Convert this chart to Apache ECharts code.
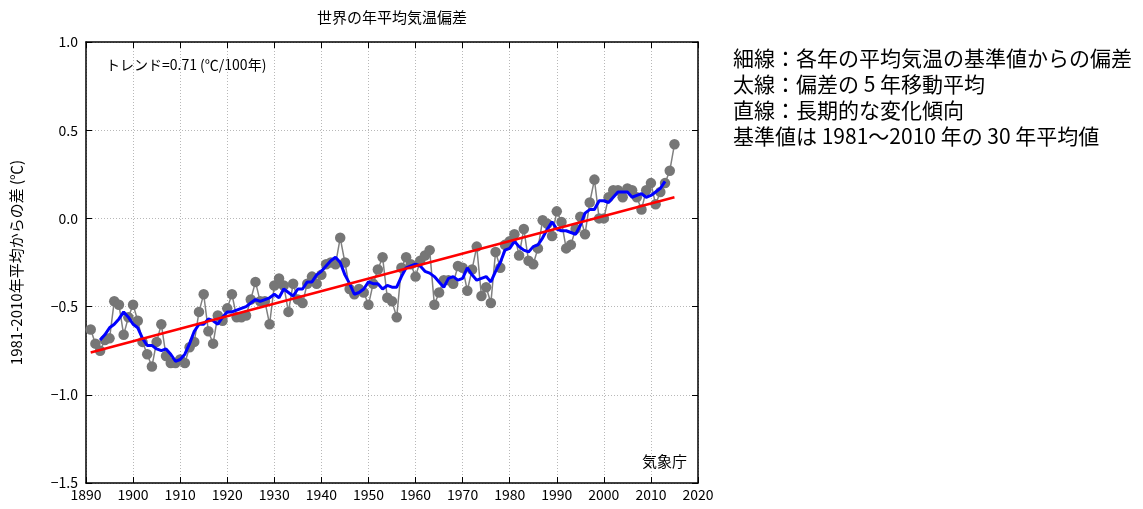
<!DOCTYPE html>
<html>
<head>
<meta charset="utf-8">
<script src="https://cdn.jsdelivr.net/npm/echarts@6/dist/echarts.min.js"></script>
<style>
html,body{margin:0;padding:0;background:#fff;}
#chart{width:1143px;height:509px;}
</style>
</head>
<body>
<div id="chart"></div>
<script>
// ---- data ----
const firstYear = 1891;
const anomaly = [
 -0.63,-0.71,-0.75,-0.69,-0.68,-0.47,-0.49,-0.66,-0.56,-0.49,
 -0.58,-0.70,-0.77,-0.84,-0.70,-0.60,-0.78,-0.82,-0.82,-0.80,
 -0.82,-0.73,-0.70,-0.53,-0.43,-0.64,-0.71,-0.55,-0.58,-0.51,
 -0.43,-0.56,-0.56,-0.55,-0.46,-0.36,-0.47,-0.47,-0.60,-0.38,
 -0.34,-0.38,-0.53,-0.37,-0.46,-0.48,-0.37,-0.33,-0.37,-0.32,
 -0.26,-0.25,-0.26,-0.11,-0.25,-0.40,-0.43,-0.40,-0.42,-0.49,
 -0.37,-0.29,-0.22,-0.45,-0.47,-0.56,-0.28,-0.22,-0.26,-0.33,
 -0.24,-0.21,-0.18,-0.49,-0.42,-0.35,-0.35,-0.37,-0.27,-0.28,
 -0.41,-0.29,-0.16,-0.44,-0.39,-0.48,-0.19,-0.28,-0.15,-0.13,
 -0.09,-0.21,-0.06,-0.24,-0.26,-0.17,-0.01,-0.03,-0.10,0.04,
 -0.02,-0.17,-0.15,-0.06,0.01,-0.09,0.09,0.22,0.00,0.00,
 0.12,0.16,0.16,0.12,0.17,0.16,0.12,0.05,0.16,0.20,
 0.08,0.15,0.20,0.27,0.42
];
const maFirstYear = 1893;
const movingAvg = [
 -0.69,-0.66,-0.62,-0.60,-0.57,-0.53,-0.56,-0.60,-0.62,-0.68,
 -0.72,-0.72,-0.74,-0.75,-0.74,-0.77,-0.81,-0.80,-0.77,-0.71,
 -0.64,-0.60,-0.60,-0.57,-0.58,-0.60,-0.56,-0.53,-0.53,-0.52,
 -0.51,-0.50,-0.48,-0.46,-0.47,-0.46,-0.45,-0.43,-0.45,-0.40,
 -0.42,-0.44,-0.40,-0.40,-0.36,-0.36,-0.32,-0.30,-0.27,-0.24,
 -0.22,-0.25,-0.32,-0.37,-0.43,-0.42,-0.40,-0.36,-0.37,-0.37,
 -0.40,-0.38,-0.39,-0.39,-0.33,-0.28,-0.27,-0.26,-0.27,-0.30,
 -0.31,-0.33,-0.36,-0.39,-0.34,-0.33,-0.35,-0.34,-0.28,-0.32,
 -0.35,-0.34,-0.33,-0.36,-0.30,-0.25,-0.18,-0.17,-0.13,-0.16,
 -0.18,-0.19,-0.16,-0.15,-0.11,-0.06,-0.02,-0.06,-0.07,-0.07,
 -0.08,-0.09,-0.04,0.03,0.05,0.05,0.10,0.10,0.09,0.12,
 0.15,0.15,0.15,0.12,0.13,0.14,0.12,0.13,0.15,0.17,
 0.21
];
const trendYears = [1891, 2015];
const trendValues = [-0.76, 0.12];
const xTicks = [1890, 2020, 10];
const yTicks = [-1.5, 1.0, 0.5];
const titleText = '世界の年平均気温偏差';
const yAxisName = '1981-2010年平均からの差 (℃)';
const trendLabel = 'トレンド=0.71 (℃/100年)';
const sourceLabel = '気象庁';
const notes = [
 '細線：各年の平均気温の基準値からの偏差',
 '太線：偏差の 5 年移動平均',
 '直線：長期的な変化傾向',
 '基準値は 1981～2010 年の 30 年平均値'
];

const anomalyData = anomaly.map((v, i) => [firstYear + i, v]);
const maData = movingAvg.map((v, i) => [maFirstYear + i, v]);
const trendData = trendYears.map((y, i) => [y, trendValues[i]]);

const FONT = '"Noto Sans CJK JP", sans-serif';
const chart = echarts.init(document.getElementById('chart'), null, {renderer: 'canvas'});

const gridLine = {show: true, lineStyle: {color: '#b8b8b8', type: [1, 2], width: 1}};
const frameLine = {show: true, onZero: false, lineStyle: {color: '#000', width: 1.5}};
const tickIn = {show: true, inside: true, length: 6, lineStyle: {color: '#000', width: 1}};

chart.setOption({
  backgroundColor: '#fff',
  animation: false,
  textStyle: {fontFamily: FONT},
  grid: {left: 86, right: 445, top: 42, bottom: 26, containLabel: false},
  xAxis: [{
    type: 'value', min: xTicks[0], max: xTicks[1], interval: xTicks[2],
    axisLine: frameLine, axisTick: tickIn, splitLine: gridLine,
    axisLabel: {color: '#000', fontSize: 14, margin: 5, fontFamily: FONT, formatter: v => String(v)}
  }, {
    type: 'value', position: 'top', min: xTicks[0], max: xTicks[1], interval: xTicks[2],
    axisLine: frameLine, axisTick: tickIn, splitLine: {show: false}, axisLabel: {show: false}
  }],
  yAxis: [{
    type: 'value', min: yTicks[0], max: yTicks[1], interval: yTicks[2],
    axisLine: frameLine, axisTick: tickIn, splitLine: gridLine,
    axisLabel: {color: '#000', fontSize: 14, margin: 8, fontFamily: FONT,
      formatter: v => (v < 0 ? '\u2212' + Math.abs(v).toFixed(1) : v.toFixed(1))},
    name: yAxisName, nameLocation: 'middle', nameGap: 62, nameRotate: 90,
    nameTextStyle: {color: '#000', fontSize: 15, fontFamily: FONT}
  }, {
    type: 'value', position: 'right', min: yTicks[0], max: yTicks[1], interval: yTicks[2],
    axisLine: frameLine, axisTick: tickIn, splitLine: {show: false}, axisLabel: {show: false}
  }],
  series: [{
    type: 'line', data: anomalyData, symbol: 'circle', symbolSize: 10.5,
    lineStyle: {color: '#808080', width: 1.5},
    itemStyle: {color: '#767676'}, z: 2
  }, {
    type: 'line', data: maData, symbol: 'none',
    lineStyle: {color: '#0000ff', width: 3}, z: 3
  }, {
    type: 'line', data: trendData, symbol: 'none',
    lineStyle: {color: '#ff0000', width: 2.5}, z: 4
  }],
  graphic: [
    {type: 'text', x: 392, y: 17, style: {text: titleText, font: '15px ' + FONT, fill: '#000', align: 'center', verticalAlign: 'middle'}},
    {type: 'text', x: 106, y: 65, style: {text: trendLabel, font: '14px ' + FONT, fill: '#000', verticalAlign: 'middle'}},
    {type: 'text', x: 687, y: 461, style: {text: sourceLabel, font: '15px ' + FONT, fill: '#000', align: 'right', verticalAlign: 'middle'}},
    {type: 'text', x: 733, y: 45, style: {text: notes.join('\n'), font: '21px ' + FONT, lineHeight: 26, fill: '#000'}}
  ]
});
</script>
</body>
</html>
